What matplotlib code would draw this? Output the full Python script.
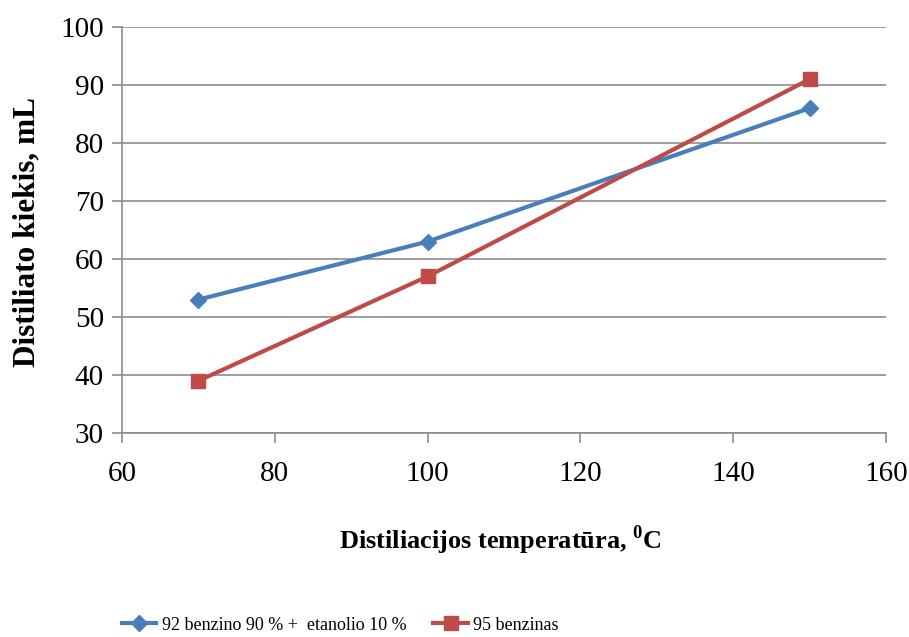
import matplotlib
matplotlib.use("Agg")
import matplotlib.pyplot as plt

plt.rcParams['font.family'] = ['Liberation Serif', 'DejaVu Serif']
plt.rcParams['mathtext.fontset'] = 'custom'
plt.rcParams['mathtext.rm'] = 'Liberation Serif'
plt.rcParams['mathtext.bf'] = 'Liberation Serif:bold'

temps = [70, 100, 150]
blend_values = [53, 63, 86]
benz95_values = [39, 57, 91]
series_labels = ["92 benzino 90 % +  etanolio 10 %", "95 benzinas"]
x_ticks = [60, 80, 100, 120, 140, 160]
y_ticks = [30, 40, 50, 60, 70, 80, 90, 100]

fig = plt.figure(figsize=(9.09, 6.37), dpi=100)
ax = fig.add_axes([122/909, 1-433/637, (886-122)/909, (433-27)/637])

ax.plot(temps, blend_values, color='#4A7EBB', lw=3, marker='D', ms=8,
        label=series_labels[0], zorder=3)
ax.plot(temps, benz95_values, color='#BE4B48', lw=3, marker='s', ms=10,
        label=series_labels[1], zorder=3)

ax.set_xlim(60, 160)
ax.set_ylim(30, 100)
ax.set_xticks(x_ticks)
ax.set_yticks(y_ticks)
ax.grid(axis='y', color='#8c8c8c', lw=1.2)
ax.set_axisbelow(True)
for s in ['top', 'right']:
    ax.spines[s].set_visible(False)
for s in ['left', 'bottom']:
    ax.spines[s].set_color('#8c8c8c')
    ax.spines[s].set_linewidth(1.2)
ax.tick_params(axis='both', colors='#8c8c8c', length=7, width=1.2, labelsize=21,
               labelcolor='black')
ax.tick_params(axis='x', pad=13)
ax.tick_params(axis='y', pad=6)

fig.text(500/909, 1-540/637, r"Distiliacijos temperatūra, $^{\mathbf{0}}$C",
         ha='center', va='center', fontsize=19, fontweight='bold')
fig.text(27/909, 1-232/637, "Distiliato kiekis, mL", rotation=90,
         ha='center', va='center', fontsize=22.5, fontweight='bold')

leg = fig.legend(loc='center left', bbox_to_anchor=(122/909, 1-625/637), ncol=2,
                 frameon=False, prop={'family': 'Liberation Serif', 'size': 13},
                 handlelength=1.9, columnspacing=1.5, handletextpad=0.3,
                 borderpad=0, borderaxespad=0)

fig.savefig("out.png", dpi=100)
